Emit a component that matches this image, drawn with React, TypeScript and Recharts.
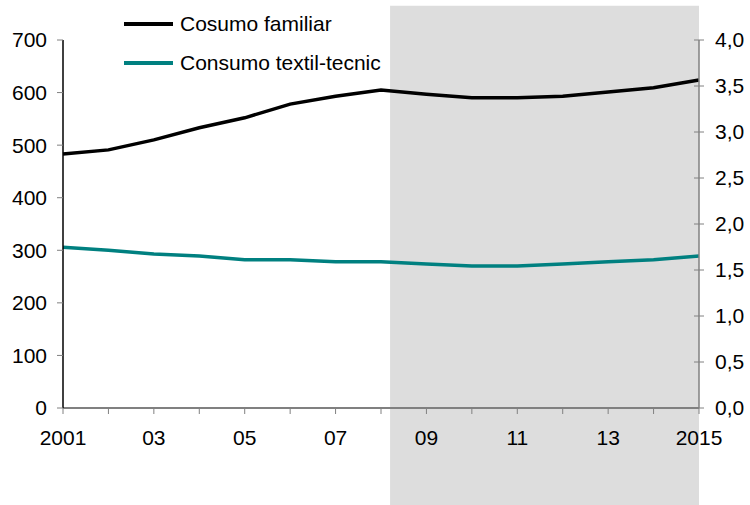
import { LineChart, Line, XAxis, YAxis, ReferenceArea } from "recharts";

const years = [2001, 2002, 2003, 2004, 2005, 2006, 2007, 2008, 2009, 2010, 2011, 2012, 2013, 2014, 2015];
const familiar = [483, 491, 510, 533, 552, 578, 593, 605, 597, 590, 590, 593, 601, 609, 624];
const textil = [306, 300, 293, 289, 282, 282, 278, 278, 274, 270, 270, 274, 278, 282, 289];
const leftTicks = [0, 100, 200, 300, 400, 500, 600, 700];
const rightTicks = [0, 0.5, 1, 1.5, 2, 2.5, 3, 3.5, 4];
const crisisStart = 2008.2;

const SERIES = [
  { key: "familiar", name: "Cosumo familiar", color: "#000000" },
  { key: "textil", name: "Consumo textil-tecnic", color: "#008080" },
];

const data = years.map((year, i) => ({ year, familiar: familiar[i], textil: textil[i] }));

const FONT = "'Liberation Sans', Arial, sans-serif";

const xLabel = (v: number) => {
  if (v === 2001 || v === 2015) return String(v);
  if (v % 2 === 1) return String(v).slice(2);
  return "";
};

// right axis: tick mark crosses the axis line, comma decimal
const renderRightTick = (props: any) => {
  const { x, y, payload } = props;
  const ax = x - 16;
  return (
    <g key={`rt-${payload.value}`}>
      <line x1={ax - 5} x2={ax + 5} y1={y} y2={y} stroke="#808080" strokeWidth={1} />
      <text x={ax + 16} y={y} dy={7} fontSize={21} fontFamily={FONT} fill="#000">
        {Number(payload.value).toFixed(1).replace(".", ",")}
      </text>
    </g>
  );
};

function LegendBox() {
  return (
    <div
      style={{
        position: "absolute",
        top: 4,
        left: 124,
        fontFamily: FONT,
        fontSize: 21,
        color: "#000",
        zIndex: 2,
      }}
    >
      {SERIES.map((s) => (
        <div key={s.key} style={{ display: "flex", alignItems: "center", height: 39 }}>
          <span style={{ width: 49, height: 4, background: s.color, marginRight: 7 }} />
          <span>{s.name}</span>
        </div>
      ))}
    </div>
  );
}

export default function App() {
  return (
    <div style={{ position: "absolute", left: 0, top: 0, width: 750, height: 505, background: "#fff" }}>
      <LineChart
        width={750}
        height={505}
        data={data}
        margin={{ top: 40, right: 6, bottom: 67, left: 13 }}
      >
        <ReferenceArea
          yAxisId="left"
          x1={crisisStart}
          x2={2015}
          y1={-185}
          y2={765}
          ifOverflow="visible"
          fill="#dddddd"
          fillOpacity={1}
          stroke="none"
        />
        <XAxis
          dataKey="year"
          type="number"
          domain={[2001, 2015]}
          ticks={years}
          interval={0}
          tickFormatter={xLabel}
          height={30}
          tickSize={6}
          tickMargin={16}
          axisLine={{ stroke: "#808080", strokeWidth: 2 }}
          tickLine={{ stroke: "#808080" }}
          tick={{ fontSize: 21, fontFamily: FONT, fill: "#000" }}
        />
        <YAxis
          yAxisId="left"
          domain={[0, 700]}
          ticks={leftTicks}
          interval={0}
          width={50}
          tickSize={6}
          tickMargin={10}
          axisLine={{ stroke: "#000", strokeWidth: 1.5 }}
          tickLine={{ stroke: "#808080" }}
          tick={{ fontSize: 21, fontFamily: FONT, fill: "#000" }}
        />
        <YAxis
          yAxisId="right"
          orientation="right"
          type="number"
          domain={[0, 4]}
          allowDataOverflow
          includeHidden
          ticks={rightTicks}
          interval={0}
          width={45}
          tickSize={6}
          tickMargin={10}
          axisLine={{ stroke: "#808080", strokeWidth: 1.5 }}
          tickLine={false}
          tick={renderRightTick}
        />
        {/* carrier so the right axis gets a scale; draws nothing */}
        <Line yAxisId="right" dataKey="textil" hide legendType="none" isAnimationActive={false} />
        {SERIES.map((s) => (
          <Line
            key={s.key}
            yAxisId="left"
            dataKey={s.key}
            name={s.name}
            stroke={s.color}
            strokeWidth={3.5}
            dot={false}
            type="linear"
            isAnimationActive={false}
          />
        ))}
      </LineChart>
      <LegendBox />
    </div>
  );
}
